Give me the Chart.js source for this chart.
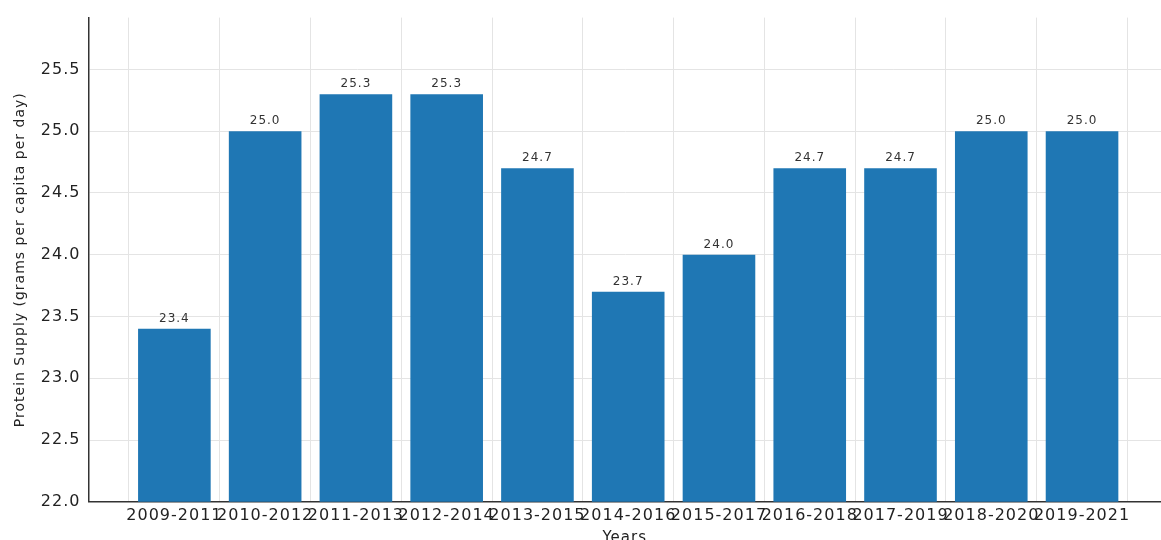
<!DOCTYPE html>
<html>
<head>
<meta charset="utf-8">
<script src="https://cdn.jsdelivr.net/npm/chart.js@4"></script>
<style>
html,body{margin:0;padding:0;background:#fff;overflow:hidden;}
#wrap{width:1161px;height:547px;position:relative;}
</style>
</head>
<body>
<div id="wrap"><canvas id="barChart"></canvas></div>
<script>
// data
let periods = ['2009-2011','2010-2012','2011-2013','2012-2014','2013-2015','2014-2016','2015-2017','2016-2018','2017-2019','2018-2020','2019-2021'];
let protein = [23.4, 25.0, 25.3, 25.3, 24.7, 23.7, 24.0, 24.7, 24.7, 25.0, 25.0];
let yTicks = [22.0, 22.5, 23.0, 23.5, 24.0, 24.5, 25.0, 25.5];

let points = protein.map(function(v, i){ return {x: i, y: v}; });

// the original picture is stretched sideways, so widen every text a bit
function spread(chart){
chart.ctx.letterSpacing = '1px';
}
let wideText = {
id: 'wideText',
beforeUpdate: spread,
beforeLayout: spread,
beforeDraw: spread
};

// labels above the bars
let valueLabels = {
id: 'valueLabels',
afterDatasetsDraw: function(chart){
let ctx = chart.ctx;
let meta = chart.getDatasetMeta(0);
ctx.save();
ctx.font = '12px "DejaVu Sans"';
ctx.fillStyle = '#333';
ctx.textAlign = 'center';
ctx.textBaseline = 'bottom';
meta.data.forEach(function(bar, i){
ctx.fillText(protein[i].toFixed(1), bar.x, bar.y - 4);
});
ctx.restore();
}
};

let barCtx = document.getElementById("barChart");

new Chart(barCtx, {
type: 'bar',
data: {
datasets: [{
label: 'Protein Supply',
data: points,
backgroundColor: '#1f77b4',
borderWidth: 0,
barPercentage: 0.8,
categoryPercentage: 1.0
}]
},
options: {
responsive: true,
maintainAspectRatio: false,
animation: false,
layout: { padding: { top: 10, left: 12, right: 0, bottom: 0 } },
plugins: { legend: { display: false }, tooltip: { enabled: false } },
scales: {
x: {
type: 'linear',
min: -0.947,
max: 10.87,
offset: false,
grid: { color: '#e4e4e4', lineWidth: 1, drawTicks: false },
border: { display: true, color: '#333', width: 1.5 },
ticks: {
stepSize: 1,
includeBounds: false,
autoSkip: false,
maxRotation: 0,
padding: 4,
color: '#222',
font: { family: 'DejaVu Sans', size: 16 },
callback: function(v){ return periods[v] !== undefined ? periods[v] : ''; }
},
title: { display: true, text: 'Years', color: '#222', font: { family: 'DejaVu Sans', size: 15 }, padding: { top: 0, bottom: 0 } }
},
y: {
min: 22.0,
max: 25.92,
grid: { color: '#e4e4e4', lineWidth: 1, drawTicks: false },
border: { display: true, color: '#333', width: 1.5 },
afterBuildTicks: function(axis){
axis.ticks = yTicks.map(function(v){ return {value: v}; });
},
ticks: {
padding: 8,
color: '#222',
font: { family: 'DejaVu Sans', size: 16 },
callback: function(v){ return Number(v).toFixed(1); }
},
title: { display: true, text: 'Protein Supply (grams per capita per day)', color: '#222', font: { family: 'DejaVu Sans', size: 14 }, padding: { top: 0, bottom: 4 } }
}
}
},
plugins: [wideText, valueLabels]
});
</script>
</body>
</html>
